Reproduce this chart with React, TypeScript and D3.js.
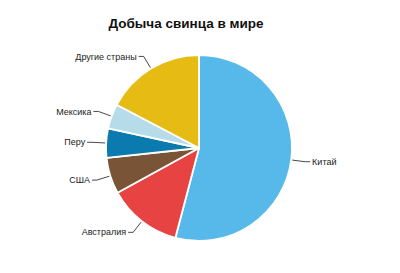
import React from "react";
import * as d3 from "d3";

const countries = ["Китай", "Австралия", "США", "Перу", "Мексика", "Другие страны"];
const shares = [54.1, 12.9, 6.3, 5.1, 4.3, 17.3];
const colors = ["#56B9E9", "#E84343", "#7A5436", "#0B7AAE", "#B6DCEA", "#E6BC14"];
const title = "Добыча свинца в мире";

const W = 400;
const H = 273;
const cx = 199;
const cy = 148;
const R = 93;

export default function App() {
  const pie = d3.pie<number>().sort(null).value((d) => d);
  const arcs = pie(shares);
  const arcGen = d3.arc<d3.PieArcDatum<number>>().innerRadius(0).outerRadius(R);
  const polar = (a: number, r: number): [number, number] => [Math.sin(a) * r, -Math.cos(a) * r];

  return (
    <svg
      width={W}
      height={H}
      style={{ position: "absolute", left: 0, top: 0, background: "#fff" }}
      fontFamily="'Liberation Sans', Arial, sans-serif"
    >
      <text x={186} y={28} textAnchor="middle" fontFamily="'Liberation Sans', Arial, sans-serif" fontWeight={700} fontSize={13.5} fill="#111">
        {title}
      </text>
      <g transform={`translate(${cx},${cy})`}>
        {arcs.map((a, i) => (
          <path key={i} d={arcGen(a) || ""} fill={colors[i]} stroke="#fff" strokeWidth={1.8} strokeLinejoin="round" />
        ))}
        {arcs.map((a, i) => {
          const mid = (a.startAngle + a.endAngle) / 2;
          const p0 = polar(mid, R + 1);
          const p1 = polar(mid, R + 14);
          const right = p1[0] > 0;
          const p2: [number, number] = [p1[0] + (right ? 5 : -5), p1[1]];
          return (
            <g key={"l" + i}>
              <polyline
                points={[p0, p1, p2].map((p) => p.join(",")).join(" ")}
                fill="none"
                stroke="#333"
                strokeWidth={0.9}
              />
              <text
                x={p2[0] + (right ? 2 : -2)}
                y={p2[1]}
                dy="0.35em"
                textAnchor={right ? "start" : "end"}
                fontSize={9}
                fill="#222"
              >
                {countries[i]}
              </text>
            </g>
          );
        })}
      </g>
    </svg>
  );
}
